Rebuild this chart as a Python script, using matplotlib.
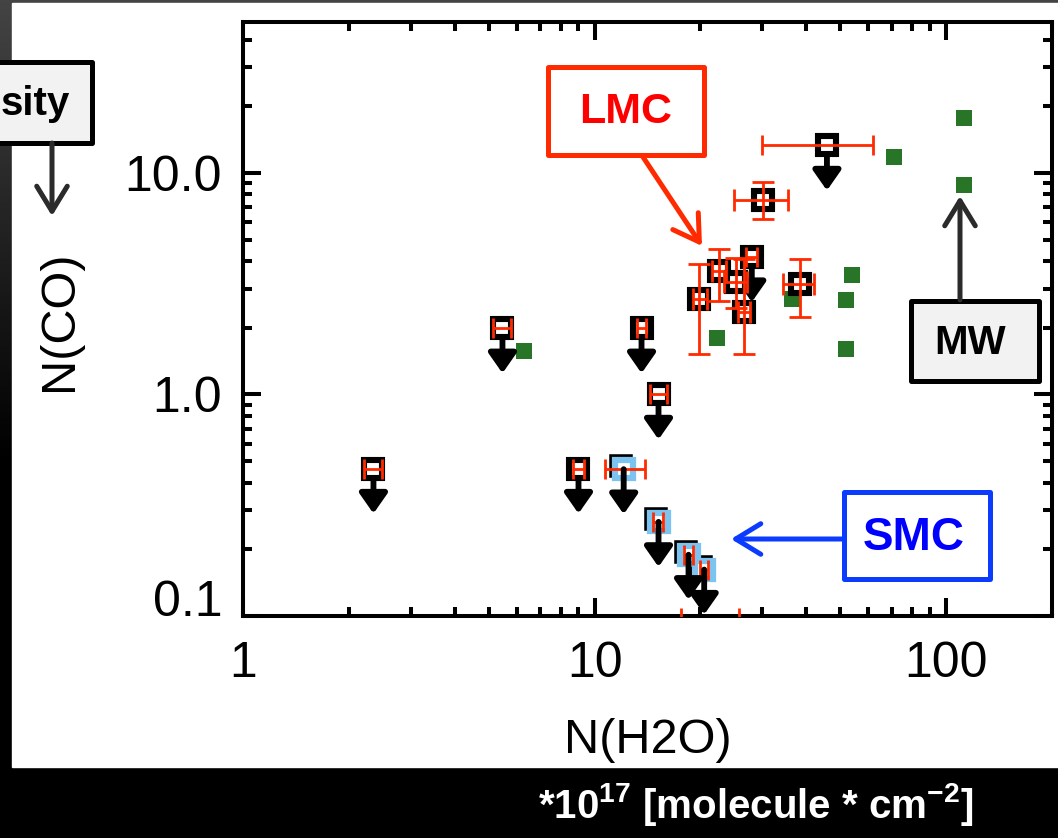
import matplotlib
matplotlib.use("Agg")
import matplotlib.pyplot as plt
import numpy as np
from matplotlib import transforms
from matplotlib.patches import Rectangle, FancyArrowPatch
from matplotlib.colors import LinearSegmentedColormap
from matplotlib.ticker import NullFormatter

W, H = 1058, 838

# ---- Milky Way (green squares)
mw_x = [6.3, 22.3, 36.5, 51.8, 51.8, 53.9, 71.0, 112.6, 112.6]
mw_y = [1.57, 1.79, 2.69, 2.66, 1.60, 3.45, 11.8, 8.8, 17.7]

# ---- LMC detections with error bars
lmc_x = [19.8, 22.6, 25.2, 26.6, 30.1, 38.4]
lmc_y = [2.69, 3.60, 3.21, 2.35, 7.55, 3.15]
lmc_x_lo = [19.0, 21.6, 23.4, 25.6, 24.9, 34.4]
lmc_x_hi = [20.9, 23.7, 27.2, 27.6, 35.4, 42.0]
lmc_y_lo = [1.52, 2.63, 2.45, 1.52, 6.2, 2.23]
lmc_y_hi = [3.87, 4.54, 4.15, 4.07, 9.1, 4.07]

# ---- LMC upper limits on N(CO)
lmc_lim_x = [2.35, 5.47, 9.0, 13.6, 15.2, 28.0, 45.8]
lmc_lim_y = [0.463, 1.99, 0.463, 1.99, 1.0, 4.17, 13.3]
lmc_lim_x_lo = [2.21, 5.15, 8.7, 13.2, 14.4, 27.0, 29.9]
lmc_lim_x_hi = [2.49, 5.80, 9.3, 14.0, 16.1, 29.0, 61.9]

# ---- SMC upper limits on N(CO)
smc_x = [12.1, 15.2, 18.5, 20.5]
smc_y = [0.46, 0.266, 0.189, 0.162]
smc_x_lo = [10.7, 14.7, 18.0, 20.0]
smc_x_hi = [13.9, 15.7, 19.0, 21.0]

# ---- source sitting on the lower edge of the plot
edge_x = [21.4]
edge_y = [0.098]
edge_x_lo = [17.6]
edge_x_hi = [25.7]

xtick_vals = [1, 10, 100]
xtick_labels = ["1", "10", "100"]
ytick_vals = [0.1, 1, 10]
ytick_labels = ["0.1", "1.0", "10.0"]

RED = "#ff2a00"
GREEN = "#287528"
LBLUE = "#7cc4ef"
BOLD = ["Liberation Sans", "DejaVu Sans"]

plt.rcParams["mathtext.fontset"] = "custom"
plt.rcParams["mathtext.bf"] = "Liberation Sans:bold"
plt.rcParams["mathtext.rm"] = "Liberation Sans"
plt.rcParams["mathtext.default"] = "bf"


def fx(px):
    return px / W


def fy(py):
    return 1 - py / H


fig = plt.figure(figsize=(W / 100, H / 100), dpi=100)
fig.patch.set_facecolor("black")

# background: dark gradient strip, white slide area
bg = fig.add_axes([0, 0, 1, 1], zorder=-5)
bg.set_axis_off()
cmap = LinearSegmentedColormap.from_list("strip", [(0, "#444444"), (0.55, "#000000"), (1, "#000000")])
bg.imshow(np.linspace(0, 1, 256)[:, None], cmap=cmap, extent=[0, 1, 0, 1], aspect="auto")
bg.add_patch(Rectangle((fx(12), fy(767)), 1 - fx(12), (767 - 3) / H, color="white"))
bg.set_xlim(0, 1)
bg.set_ylim(0, 1)

ax = fig.add_axes([fx(243), fy(616), (1052 - 243) / W, (616 - 22) / H])
ax.set_xscale("log")
ax.set_yscale("log")
ax.set_xlim(1, 200)
ax.set_ylim(0.1, 48)

# Milky Way
ax.plot(mw_x, mw_y, "s", ms=12, mfc=GREEN, mec=GREEN, mew=0, zorder=2)


def down_arrows(xs, ys, z):
    down = transforms.offset_copy(ax.transData, fig=fig, x=0, y=-45, units="dots")
    for x, y in zip(xs, ys):
        ax.annotate("", xy=(x, y), xycoords=down, xytext=(x, y), textcoords="data",
                    arrowprops=dict(arrowstyle="-|>,head_length=0.6,head_width=0.42",
                                    mutation_scale=20, color="black", lw=4.2,
                                    shrinkA=0, shrinkB=0),
                    zorder=z)


def xerr_of(xs, lo, hi):
    return [np.subtract(xs, lo), np.subtract(hi, xs)]


# LMC upper limits
down_arrows(lmc_lim_x, lmc_lim_y, 3)
ax.plot(lmc_lim_x, lmc_lim_y, "s", ms=12.5, mfc="white", mec="black", mew=4.4, zorder=4)
ax.errorbar(lmc_lim_x, lmc_lim_y, xerr=xerr_of(lmc_lim_x, lmc_lim_x_lo, lmc_lim_x_hi),
            fmt="none", ecolor=RED, elinewidth=2, capsize=7, capthick=2, zorder=5)

# LMC detections
ax.plot(lmc_x, lmc_y, "s", ms=12.5, mfc="white", mec="black", mew=4.4, zorder=4)
ax.errorbar(lmc_x, lmc_y, xerr=xerr_of(lmc_x, lmc_x_lo, lmc_x_hi),
            yerr=xerr_of(lmc_y, lmc_y_lo, lmc_y_hi),
            fmt="none", ecolor=RED, elinewidth=2, capsize=8, capthick=2, zorder=5)

ax.errorbar(edge_x, edge_y, xerr=xerr_of(edge_x, edge_x_lo, edge_x_hi),
            fmt="none", ecolor=RED, elinewidth=2, capsize=7, capthick=2, zorder=5)

# SMC upper limits: black frame slightly up-left, light blue square on top
shadow = transforms.offset_copy(ax.transData, fig=fig, x=-3, y=3, units="dots")
ax.plot(smc_x, smc_y, "s", ms=12.5, mfc="none", mec="black", mew=4, zorder=4, transform=shadow)
ax.plot(smc_x, smc_y, "s", ms=12.5, mfc="white", mec=LBLUE, mew=4.5, zorder=4.5)
ax.errorbar(smc_x, smc_y, xerr=xerr_of(smc_x, smc_x_lo, smc_x_hi),
            fmt="none", ecolor=RED, elinewidth=2, capsize=7, capthick=2, zorder=5)
down_arrows(smc_x, smc_y, 6)

# axes styling
for s in ax.spines.values():
    s.set_linewidth(2.9)
ax.tick_params(which="both", direction="in", top=True, right=True, width=2.9, colors="black")
ax.tick_params(which="major", length=13)
ax.tick_params(which="minor", length=6.5)
ax.tick_params(axis="x", which="major", pad=18)
ax.tick_params(axis="y", which="major", pad=15)
ax.set_xticks(xtick_vals, labels=xtick_labels)
ax.set_yticks(ytick_vals, labels=ytick_labels)
ax.xaxis.set_minor_formatter(NullFormatter())
ax.yaxis.set_minor_formatter(NullFormatter())
for lab in ax.get_xticklabels() + ax.get_yticklabels():
    lab.set_fontfamily("Liberation Sans")
    lab.set_fontsize(36)
ax.get_yticklabels()[0].set_va("baseline")

ax.set_xlabel("N(H2O)", fontsize=35, fontfamily="Liberation Sans")
ax.xaxis.label.set_va("baseline")
ax.xaxis.set_label_coords(0.5, (616 - 753) / 594)
ax.set_ylabel("N(CO)", fontsize=35, fontfamily="Liberation Sans")
ax.yaxis.label.set_va("center")
ax.yaxis.set_label_coords((60 - 243) / 809, (616 - 321) / 594)


# callout boxes and arrows in figure pixels
def box(x0, y0, x1, y1, edge, face, lw=3.6):
    fig.add_artist(Rectangle((fx(x0), fy(y1)), fx(x1) - fx(x0), fy(y0) - fy(y1),
                             transform=fig.transFigure, facecolor=face, edgecolor=edge,
                             linewidth=lw, joinstyle="round", zorder=10))


def pointer(x0, y0, x1, y1, color):
    fig.add_artist(FancyArrowPatch((fx(x0), fy(y0)), (fx(x1), fy(y1)),
                                   transform=fig.transFigure,
                                   arrowstyle="->,head_length=0.9,head_width=0.55",
                                   mutation_scale=20, color=color, lw=3.6,
                                   capstyle="round", joinstyle="round",
                                   shrinkA=0, shrinkB=0, zorder=10))


box(-6, 62, 92, 143, "black", "#f2f2f2")
fig.text(fx(1), fy(104), "sity", ha="left", va="center", fontsize=29,
         fontweight="bold", family=BOLD, color="black", zorder=11)
pointer(52, 143, 52, 216, "#2b2b2b")

box(548, 67, 704, 155, RED, "white")
fig.text(fx(626), fy(112), "LMC", ha="center", va="center", fontsize=31,
         fontweight="bold", family=BOLD, color="#ff0000", zorder=11)
pointer(643, 157, 702, 246, RED)

box(911, 301, 1039, 381, "black", "#f2f2f2")
fig.text(fx(970), fy(343), "MW", ha="center", va="center", fontsize=29,
         fontweight="bold", family=BOLD, color="black", zorder=11)
pointer(960, 300, 960, 196, "#2b2b2b")

box(844, 492, 990, 579, "#0b3bff", "white")
fig.text(fx(914), fy(538), "SMC", ha="center", va="center", fontsize=33,
         fontweight="bold", family=BOLD, color="#0000ff", zorder=11)
pointer(844, 539, 731, 539, "#0b3bff")

fig.text(fx(756), fy(818), r"*10$^{17}$ [molecule * cm$^{-2}$]", ha="center", va="baseline",
         fontsize=29, fontweight="bold", family=BOLD, color="white")

fig.savefig("out.png", dpi=100, facecolor=fig.get_facecolor())
